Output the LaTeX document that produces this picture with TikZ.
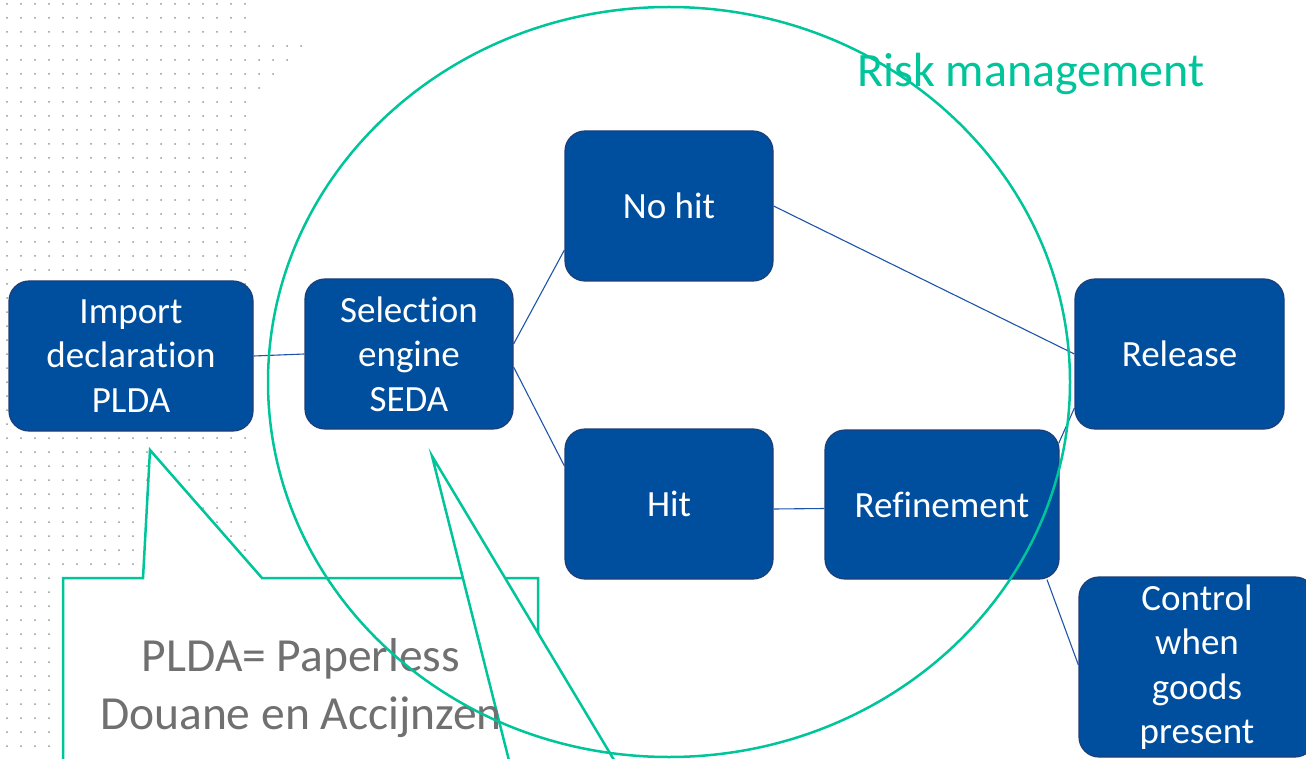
\documentclass[tikz,border=0pt]{standalone}
\usepackage{fontspec}
\setmainfont{Carlito}[Ligatures={NoCommon,NoContextual},Contextuals=NoAlternate]

\definecolor{nodeblue}{RGB}{0,79,159}
\definecolor{nodeedge}{RGB}{30,62,120}
\definecolor{linkblue}{RGB}{30,85,170}
\definecolor{riskgreen}{RGB}{0,196,154}
\definecolor{notegray}{RGB}{112,112,112}
\definecolor{dotgray}{RGB}{150,150,150}

\tikzset{
	callout/.style={draw=riskgreen,line width=2.5pt,fill=white},
}

\begin{document}
\begin{tikzpicture}[x=1pt,y=-1pt]
	\useasboundingbox (0,0) rectangle (1306,759);
	\clip (0,0) rectangle (1306,759);
	\foreach \i in {0,...,17}
		\foreach \j in {0,...,53}
			\fill[dotgray] (7+14*\i,4+14*\j) circle (1pt);
	\foreach \i/\j in {18/3,19/3,20/3,21/3,18/4,19/4,20/4,18/5,19/5,18/6}
		\fill[dotgray] (7+14*\i,4+14*\j) circle (1pt);
	\begin{scope}[every node/.style={rectangle,rounded corners=20pt,fill=nodeblue,draw=nodeedge,line width=1.2pt,
			text=white,align=center,inner sep=0pt,minimum width=208pt,minimum height=150pt,
			font=\fontsize{37}{44.5}\selectfont}]
		\node (imp) at (131,356) [minimum width=244pt] {Import\\declaration\\PLDA};
		\node (sel) at (409,354) {Selection\\engine\\SEDA};
		\node (nohit) at (669,206) {No hit};
		\node (hit) at (669,504) {Hit};
		\node (ref) at (942,504.5) [minimum width=234pt,minimum height=149pt] {Refinement};
		\node (rel) at (1179.5,354) [minimum width=209pt] {Release};
		\node (ctl) at (1197,667) [minimum width=236pt,minimum height=180pt] {Control\\when\\goods\\present};
	\end{scope}
	\begin{scope}[every edge/.style={draw=linkblue,line width=1.1pt}]
		\path (imp.east) edge (sel.west);
		\path ([yshift=10pt]sel.east) edge ([yshift=-44pt]nohit.west);
		\path ([yshift=-13pt]sel.east) edge ([yshift=38pt]hit.west);
		\path (nohit.east) edge (rel.west);
		\path ([yshift=-5pt]hit.east) edge ([yshift=-4pt]ref.west);
		\path ([xshift=-1pt,yshift=61pt]ref.east) edge ([yshift=-54pt]rel.west);
		\path ([xshift=105pt]ref.south) edge ([yshift=2pt]ctl.west);
	\end{scope}
	\filldraw[callout] (63,790) -- (63,578) -- (143,578) -- (150,450) -- (262,578) -- (538,578) -- (538,790) -- cycle;
	\filldraw[callout] (432,456) -- (519,800) -- (638,800) -- cycle;
	\node (plda) at (301,688) [text=notegray,align=center,inner sep=0pt,font=\fontsize{47.5}{58}\selectfont] {PLDA= Paperless\\Douane en Accijnzen};
	\draw[riskgreen,line width=2.5pt] (669,382) ellipse [x radius=401pt,y radius=375pt];
	\node (risk) at (857,87) [anchor=base west,text=riskgreen,inner sep=0pt,font=\fontsize{48}{56}\selectfont] {Risk management};
\end{tikzpicture}
\end{document}
